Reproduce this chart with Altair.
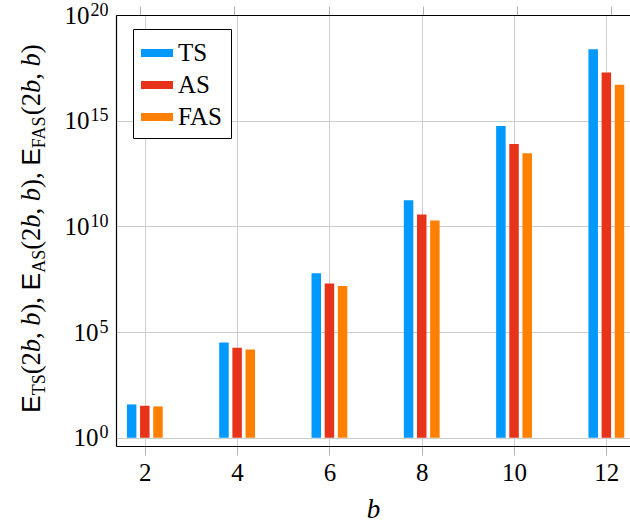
import altair as alt
import pandas as pd

# Block sizes b and the three counts per block size
b_values = [2, 4, 6, 8, 10, 12]
ts_values = [37.7, 3.2e4, 6.0e7, 1.7e11, 5.6e14, 2.4e18]
as_values = [32.6, 1.8e4, 2.0e7, 3.6e10, 7.8e13, 1.9e17]
fas_values = [30.3, 1.5e4, 1.5e7, 1.9e10, 2.9e13, 5.0e16]

series_names = ["TS", "AS", "FAS"]
series_colors = ["#0099ff", "#e6331a", "#ff8000"]
y_exponents = [0, 5, 10, 15, 20]
x_ticks = [2, 4, 6, 8, 10, 12]

rows = []
for name, vals in zip(series_names, [ts_values, as_values, fas_values]):
    for b, v in zip(b_values, vals):
        rows.append({"b": b, "series": name, "value": v})
df = pd.DataFrame(rows)

W, H = 514, 431
SERIF = "Liberation Serif"
SANS = "Liberation Sans"
GRID = "#cccccc"
TICK = "#b3b3b3"
LABEL_SIZE, SUP_SIZE = 25, 18

x_scale = alt.Scale(domain=[1.484, 12.404], nice=False, zero=False)
y_scale = alt.Scale(type="log", domain=[10 ** -0.39, 1e20], nice=False)

# grouped bars: each series shifted sideways around its b position
bars = (
    alt.Chart(df)
    .transform_calculate(
        xpos="datum.b + (datum.series == 'TS' ? -0.285 : datum.series == 'FAS' ? 0.285 : 0)"
    )
    .mark_bar(width=9.5)
    .encode(
        x=alt.X(
            "xpos:Q",
            scale=x_scale,
            axis=alt.Axis(
                values=x_ticks,
                title="b",
                titleFont=SERIF,
                titleFontStyle="italic",
                titleFontWeight="normal",
                titleFontSize=27,
                titleColor="black",
                titlePadding=11,
                labelFont=SERIF,
                labelFontSize=LABEL_SIZE,
                labelColor="black",
                labelPadding=5,
                tickSize=9,
                tickColor=TICK,
                domainColor="black",
                domainWidth=1.2,
                grid=True,
                gridColor=GRID,
            ),
        ),
        y=alt.Y(
            "value:Q",
            scale=y_scale,
            axis=alt.Axis(
                values=[10.0 ** e for e in y_exponents],
                labels=False,
                title=None,
                ticks=False,
                tickSize=0,
                domainColor="black",
                domainWidth=1.2,
                grid=True,
                gridColor=GRID,
            ),
        ),
        y2=alt.datum(1),
        color=alt.Color(
            "series:N",
            scale=alt.Scale(domain=series_names, range=series_colors),
            sort=series_names,
            legend=alt.Legend(
                title=None,
                orient="none",
                legendX=17,
                legendY=14,
                padding=8,
                strokeColor="black",
                fillColor="white",
                cornerRadius=0,
                symbolType="M-1,-0.25L1,-0.25L1,0.25L-1,0.25Z",
                symbolSize=1024,
                symbolStrokeWidth=0,
                symbolOpacity=1,
                labelFont=SERIF,
                labelFontSize=LABEL_SIZE,
                labelColor="black",
                labelOffset=5,
                rowPadding=3,
            ),
        ),
    )
)

# top frame line with its outward ticks
top_axis = (
    alt.Chart(pd.DataFrame({"b": x_ticks}))
    .mark_point(opacity=0)
    .encode(
        x=alt.X(
            "b:Q",
            scale=x_scale,
            axis=alt.Axis(
                orient="top",
                values=x_ticks,
                labels=False,
                title=None,
                tickSize=9,
                tickColor=TICK,
                domainColor="black",
                domainWidth=1.2,
                grid=False,
            ),
        ),
        y=alt.value(0),
    )
)


# y tick labels "10^e": base and raised exponent drawn by stacked label axes
def label_axis(exps, expr, padding, size, offset):
    vals = [10.0 ** e for e in exps]
    return (
        alt.Chart(pd.DataFrame({"v": vals}))
        .mark_point(opacity=0)
        .encode(
            y=alt.Y(
                "v:Q",
                scale=y_scale,
                axis=alt.Axis(
                    orient="left",
                    values=vals,
                    labelExpr=expr,
                    labelFont=SERIF,
                    labelFontSize=size,
                    labelColor="black",
                    labelAlign="right",
                    labelBaseline="middle",
                    labelPadding=padding,
                    labelOffset=offset,
                    labelOverlap=False,
                    ticks=False,
                    tickSize=0,
                    domain=False,
                    grid=False,
                    title=None,
                ),
            ),
            x=alt.value(0),
        )
    )


digit_w = SUP_SIZE * 0.5
exp_expr = "floor(log(datum.value) / LN10 + 0.5) + ''"
label_layers = [
    label_axis([e for e in y_exponents if e < 10], "'10'", 9 + digit_w, LABEL_SIZE, 0),
    label_axis([e for e in y_exponents if e >= 10], "'10'", 9 + 2 * digit_w, LABEL_SIZE, 0),
    label_axis(y_exponents, exp_expr, 8, SUP_SIZE, -5),
]

# rotated y title set piece by piece (subscripts lowered and smaller)
F, FS = 26.5, 18
adv = {
    "sans": {"E": 0.667},
    "roman": {"(": 0.333, ")": 0.333, "2": 0.5, ",": 0.25, " ": 0.25},
    "italic": {"b": 0.5},
    "sub": {"T": 0.611, "S": 0.556, "A": 0.722, "F": 0.556},
}
pieces = []
for i, sub in enumerate(series_names):
    if i:
        pieces.append((", ", "roman"))
    pieces += [("E", "sans"), (sub, "sub"), ("(2", "roman"), ("b", "italic"),
               (", ", "roman"), ("b", "italic"), (")", "roman")]

base_x = -76
pos = 398.0
title_rows = []
for text, kind in pieces:
    size = FS if kind == "sub" else F
    title_rows.append({
        "text": text, "kind": kind, "size": size,
        "px": base_x + (5 if kind == "sub" else 0), "py": pos,
    })
    pos -= sum(adv[kind][c] for c in text) * size
title_df = pd.DataFrame(title_rows)


def title_layer(kind, font, style):
    return (
        alt.Chart(title_df)
        .transform_filter(alt.datum.kind == kind)
        .mark_text(angle=270, align="left", baseline="alphabetic", font=font,
                   fontStyle=style, color="black")
        .encode(
            x=alt.X("px:Q", scale=None),
            y=alt.Y("py:Q", scale=None),
            text="text:N",
            size=alt.Size("size:Q", scale=None, legend=None),
        )
    )


title_layers = [
    title_layer("sans", SANS, "normal"),
    title_layer("roman", SERIF, "normal"),
    title_layer("italic", SERIF, "italic"),
    title_layer("sub", SERIF, "normal"),
]

chart = (
    alt.layer(bars, top_axis, *label_layers, *title_layers)
    .resolve_scale(x="independent", y="independent", color="independent", size="independent")
    .resolve_axis(x="independent", y="independent")
    .properties(
        width=W,
        height=H,
        autosize=alt.AutoSizeParams(type="none"),
        padding={"left": 116, "top": 15, "right": 0, "bottom": 81},
        background="white",
    )
    .configure_view(stroke=None)
)

chart.save("out.html", embed_options={"renderer": "svg", "actions": False})
